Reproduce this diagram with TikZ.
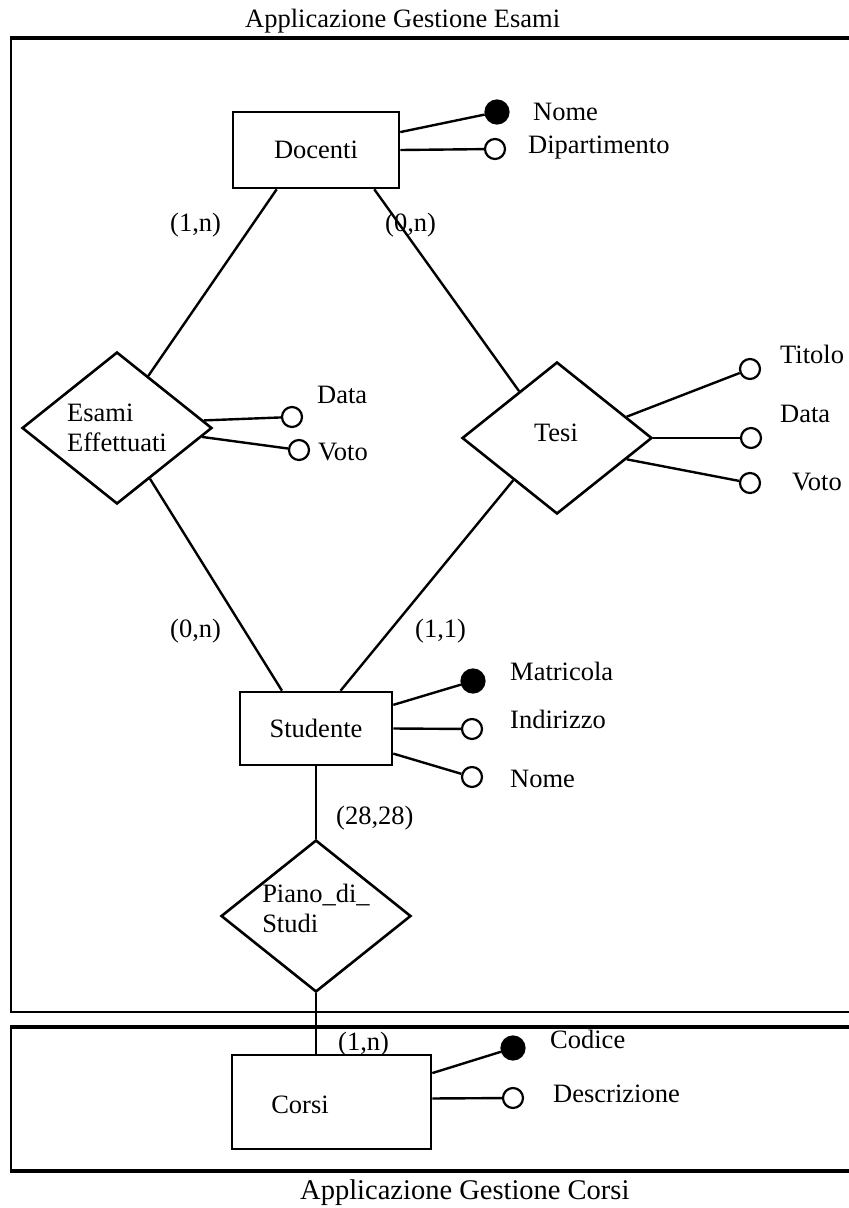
\documentclass[tikz,border=0pt]{standalone}
\usepackage{fontspec}
\setmainfont{Liberation Serif}
\usetikzlibrary{shapes.geometric}
\begin{document}
\begin{tikzpicture}[x=1pt,y=-1pt,
  every node/.style={font=\fontsize{26.5}{30}\selectfont},
  conn/.style={line width=2.4pt},
  entity/.style={draw,line width=2.6pt,rectangle,inner sep=0pt},
  rel/.style={draw,line width=2.6pt,diamond,inner sep=0pt,minimum width=190pt,minimum height=152pt,align=left},
  attr/.style={draw,circle,line width=2.2pt,minimum size=20pt,inner sep=0pt,fill=white},
  keyattr/.style={draw,circle,line width=2.2pt,minimum size=23pt,inner sep=0pt,fill=black},
  txt/.style={anchor=base west,inner sep=0pt},
  frame/.style={line width=3.2pt},
  thinframe/.style={line width=2pt},
]
\useasboundingbox (0,0) rectangle (849,1208);

% frames
\draw[frame] (10,38) -- (849,38);
\draw[thinframe] (10.5,38) -- (10.5,1012);
\draw[thinframe] (10,1012) -- (849,1012);
\draw[frame] (10,1027) -- (849,1027);
\draw[thinframe] (10.5,1027) -- (10.5,1171);
\draw[frame] (10,1171) -- (849,1171);

% titles
\node[txt] (t1) at (245,27) {Applicazione Gestione Esami};
\node[txt,font=\fontsize{28.5}{32}\selectfont] (t2) at (300,1199) {Applicazione Gestione Corsi};

% entities
\node[entity,minimum width=166pt,minimum height=76pt] (docenti) at (316,150) {Docenti};
\node[entity,minimum width=152pt,minimum height=73pt] (studente) at (316,728.5) {Studente};
\node[entity,minimum width=199pt,minimum height=94pt] (corsi) at (331.5,1102) {};
\node (corsilbl) at (300,1105) {Corsi};

% relationships
\node[rel] (esami) at (117,428) {Esami\\Effettuati};
\node[rel] (tesi) at (557,438) {};
\node (tesilbl) at (556,433) {Tesi};
\node[rel] (piano) at (316,916) {};
\node[align=left] (pianolbl) at (316,908) {Piano\_di\_\\Studi};

% connectors
\draw[conn] (docenti.-135) -- (esami.59);
\draw[conn] (docenti.-34) -- (tesi.129);
\draw[conn] (esami.-57) -- (studente.132);
\draw[conn] (tesi.-136) -- (studente.57);
\draw[conn] (studente.south) -- (piano.north);
\draw[conn] (piano.south) -- (piano.south |- corsi.north);

% attributes Docenti
\node[keyattr] (kdnome) at (497,112) {};
\node[attr] (adip) at (495,149) {};
\draw[conn] (docenti.12) -- (kdnome);
\draw[conn] (docenti.east) -- (adip);
\node[txt] (tnomeD) at (533,120) {Nome};
\node[txt] (tdip) at (528,153) {Dipartimento};

% attributes Esami Effettuati
\node[attr] (adataE) at (292,417) {};
\node[attr] (avotoE) at (299,450) {};
\draw[conn] (esami.5) -- (adataE);
\draw[conn] (esami.-6) -- (avotoE);
\node[txt] (tdataE) at (317,403) {Data};
\node[txt] (tvotoE) at (318,460) {Voto};

% attributes Tesi
\node[attr] (atit) at (750,369) {};
\node[attr] (adataT) at (751,438) {};
\node[attr] (avotoT) at (750,483) {};
\draw[conn] (tesi.17) -- (atit);
\draw[conn] (tesi.east) -- (adataT);
\draw[conn] (tesi.-17.5) -- (avotoT);
\node[txt] (ttit) at (780,363) {Titolo};
\node[txt] (tdataT) at (780,422) {Data};
\node[txt] (tvotoT) at (792,490) {Voto};

% attributes Studente
\node[keyattr] (kmat) at (473,681) {};
\node[attr] (aind) at (472,729) {};
\node[attr] (anomeS) at (472,777) {};
\draw[conn] (studente.17) -- (kmat);
\draw[conn] (studente.east) -- (aind);
\draw[conn] (studente.-18.5) -- (anomeS);
\node[txt] (tmat) at (510,680) {Matricola};
\node[txt] (tind) at (510,728) {Indirizzo};
\node[txt] (tnomeS) at (510,787) {Nome};

% attributes Corsi
\node[keyattr] (kcod) at (513,1048) {};
\node[attr] (adesc) at (513,1098) {};
\draw[conn] (corsi.16) -- (kcod);
\draw[conn] (corsi.2.3) -- (adesc);
\node[txt] (tcod) at (550,1048) {Codice};
\node[txt] (tdesc) at (553,1102) {Descrizione};

% cardinalities
\node[txt] (c1) at (170,231) {(1,n)};
\node[txt] (c2) at (385,231) {(0,n)};
\node[txt] (c3) at (170,637) {(0,n)};
\node[txt] (c4) at (415,637) {(1,1)};
\node[txt] (c5) at (336,824) {(28,28)};
\node[txt] (c6) at (338,1050) {(1,n)};
\end{tikzpicture}
\end{document}
